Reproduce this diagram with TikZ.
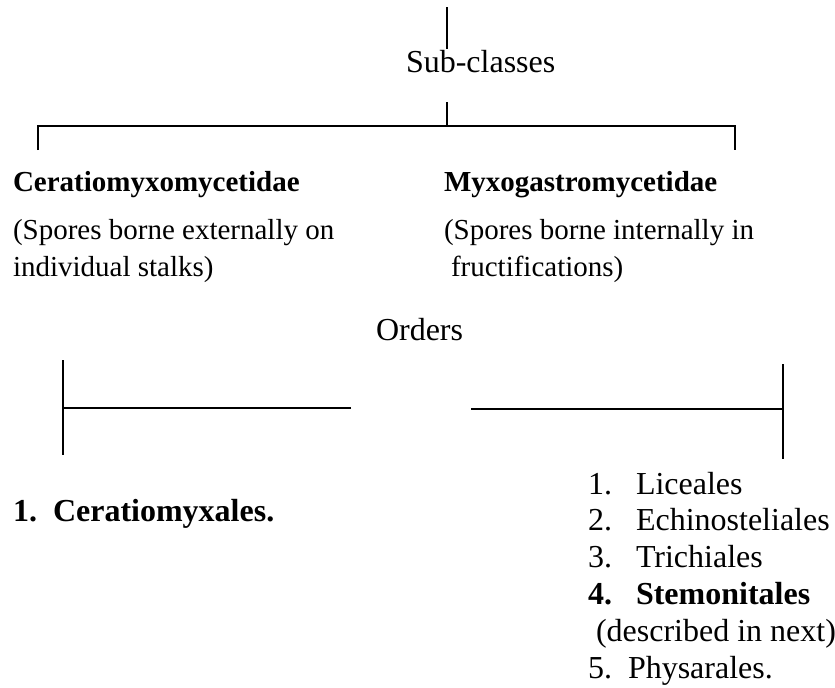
\documentclass[tikz,border=0pt]{standalone}
\usepackage{fontspec}
\setmainfont{Liberation Serif}
\usetikzlibrary{positioning}

\begin{document}
\begin{tikzpicture}[
                            x=0.5pt, y=-0.5pt,
                            line width=1pt,
                            txt/.style={inner sep=0pt, anchor=base west, font=\fontsize{16}{19}\selectfont},
                            sub/.style={inner sep=0pt, anchor=base west, font=\fontsize{14.5}{18}\selectfont},
                            subhead/.style={sub, font=\fontsize{14.5}{18}\selectfont\bfseries},
                            item/.style={txt, yshift=-18.4pt}
                        ]
                        % Frame
                        \fill [white] (0,0) rectangle (835,687);
                        \useasboundingbox (0,0) rectangle (835,687);

                        % Blocks
                        \node [txt] (subcls) at (405,72) {Sub-classes};
                        \node [subhead] (cerat) at (12,191) {Ceratiomyxomycetidae};
                        \node [subhead] (myxo) at (443,191) {Myxogastromycetidae};
                        \node [sub] (ceratA) at (12,239) {(Spores borne externally on};
                        \node [sub] (ceratB) at (12,276) {individual stalks)};
                        \node [sub] (myxoA) at (443,239) {(Spores borne internally in};
                        \node [sub] (myxoB) at (450,276) {fructifications)};
                        \node [txt] (orders) at (375,340) {Orders};
                        \node [txt, font=\fontsize{16}{19}\selectfont\bfseries] (ord1) at (12,521) {\makebox[20pt][l]{1.}Ceratiomyxales.};
                        \node [txt] (o1) at (587,494) {\makebox[24pt][l]{1.}Liceales};
                        \node [item] (o2) at (o1.base west) {\makebox[24pt][l]{2.}Echinosteliales};
                        \node [item] (o3) at (o2.base west) {\makebox[24pt][l]{3.}Trichiales};
                        \node [item] (o4) at (o3.base west) {\bfseries\makebox[24pt][l]{4.}Stemonitales};
                        \node [item, xshift=4pt] (o4n) at (o4.base west) {(described in next)};
                        \node [item] (o5) at (o4n.base -| o4.west) {\makebox[20pt][l]{5.}Physarales.};

                        % Joints
                        \coordinate (top) at (447,7);
                        \coordinate (split) at (447,102);
                        \coordinate (hub) at (447,126);
                        \coordinate (legL) at (38,150);
                        \coordinate (legR) at (735,150);
                        \coordinate (lTop) at (63,360);
                        \coordinate (lBot) at (63,455);
                        \coordinate (lEnd) at (351,408);
                        \coordinate (rTop) at (783,364);
                        \coordinate (rBot) at (783,459);
                        \coordinate (rEnd) at (471,409);

                        % Connections
                        \draw (top) -- (top |- subcls.north);
                        \draw (split) -- (hub);
                        \draw (legL) |- (hub) -| (legR);
                        \draw (lTop) -- (lBot);
                        \draw (lEnd) -- (lEnd -| lTop);
                        \draw (rTop) -- (rBot);
                        \draw (rEnd) -- (rEnd -| rTop);
                    \end{tikzpicture}
\end{document}
